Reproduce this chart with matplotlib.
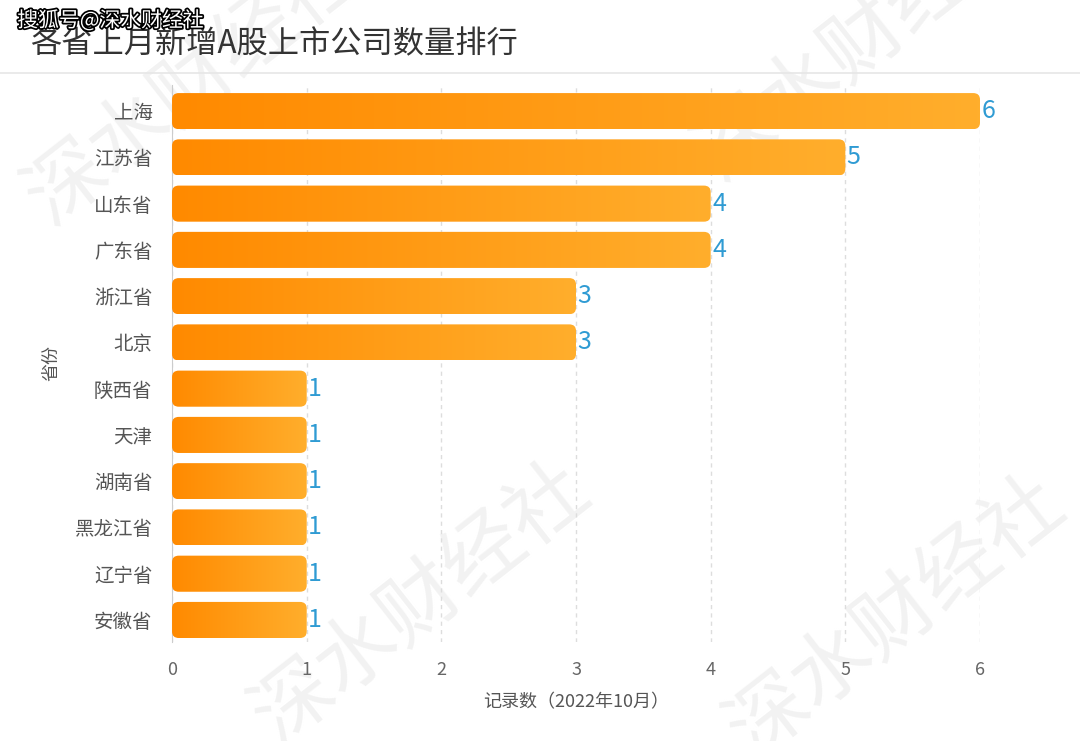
import matplotlib
matplotlib.use("Agg")
from matplotlib import pyplot as plt
from matplotlib.patches import FancyBboxPatch
import matplotlib.patheffects as pe
import numpy as np

plt.rcParams['font.family'] = ['Noto Sans CJK SC', 'DejaVu Sans']

provinces = ["上海", "江苏省", "山东省", "广东省", "浙江省", "北京",
             "陕西省", "天津", "湖南省", "黑龙江省", "辽宁省", "安徽省"]
counts = [6, 5, 4, 4, 3, 3, 1, 1, 1, 1, 1, 1]
xticks = [0, 1, 2, 3, 4, 5, 6]

fig = plt.figure(figsize=(10.8, 7.41), dpi=100)
fig.patch.set_facecolor("white")

# faint diagonal watermarks in the background
for (wx, wy) in [(0.01, 0.70), (0.63, 0.76), (0.22, 0.0), (0.66, -0.02)]:
    fig.text(wx, wy, "深水财经社", fontsize=58, color="#f2f2f2", rotation=38,
             zorder=-1)

ax = fig.add_axes([0.1593, 0.134, 0.7481, 0.751])
ax.set_facecolor("none")

y = np.arange(len(provinces))
bars = ax.barh(y, counts, height=0.78, color="none", zorder=2)

# gradient orange with rounded right end
grad = np.linspace(0, 1, 256).reshape(1, -1)
cmap = matplotlib.colors.LinearSegmentedColormap.from_list("og", ["#ff8a00", "#ffae2c"])
for b in bars:
    x0, y0 = b.get_x(), b.get_y()
    w, h = b.get_width(), b.get_height()
    box = FancyBboxPatch((x0, y0), w, h,
                         boxstyle="round,pad=0,rounding_size=0.05",
                         mutation_aspect=2.8, facecolor="none",
                         edgecolor="none", transform=ax.transData)
    ax.add_patch(box)
    im = ax.imshow(grad, extent=[x0, x0 + w, y0 + h, y0], cmap=cmap,
                   aspect="auto", zorder=3)
    im.set_clip_path(box)
    ax.text(x0 + w + 0.01, y0 + h / 2, str(int(w)), va="center", ha="left",
            fontsize=18, color="#2f9bd3", zorder=4)

ax.set_xlim(0, 6)
ax.set_ylim(11.47, -0.56)
ax.set_xticks(xticks)
ax.set_yticks(y)
ax.set_yticklabels(provinces, fontsize=14, color="#555555")
ax.tick_params(axis="x", labelsize=13, colors="#666666", length=0, pad=14)
ax.tick_params(axis="y", length=0, pad=14)
ax.grid(axis="x", linestyle=(0, (3, 3)), color="#dddddd", linewidth=1, zorder=1)
ax.set_axisbelow(True)
for s in ["top", "right", "bottom"]:
    ax.spines[s].set_visible(False)
ax.spines["left"].set_color("#cccccc")

ax.set_xlabel("记录数（2022年10月）", fontsize=13, color="#555555", labelpad=10)
ax.set_ylabel("省份", fontsize=13, color="#555555", labelpad=10)

# title and separator
fig.text(0.028, 0.940, "各省上月新增A股上市公司数量排行", fontsize=22.5,
         color="#333333", va="center", ha="left")
fig.add_artist(plt.Line2D([0, 1], [0.901, 0.901], color="#e6e6e6", linewidth=1.2))

# source tag
fig.text(0.016, 0.972, "搜狐号@深水财经社", fontsize=15, color="white",
         va="center", ha="left", zorder=10,
         path_effects=[pe.withStroke(linewidth=2.5, foreground="black")])

fig.savefig("out.png", dpi=100, facecolor="white")
